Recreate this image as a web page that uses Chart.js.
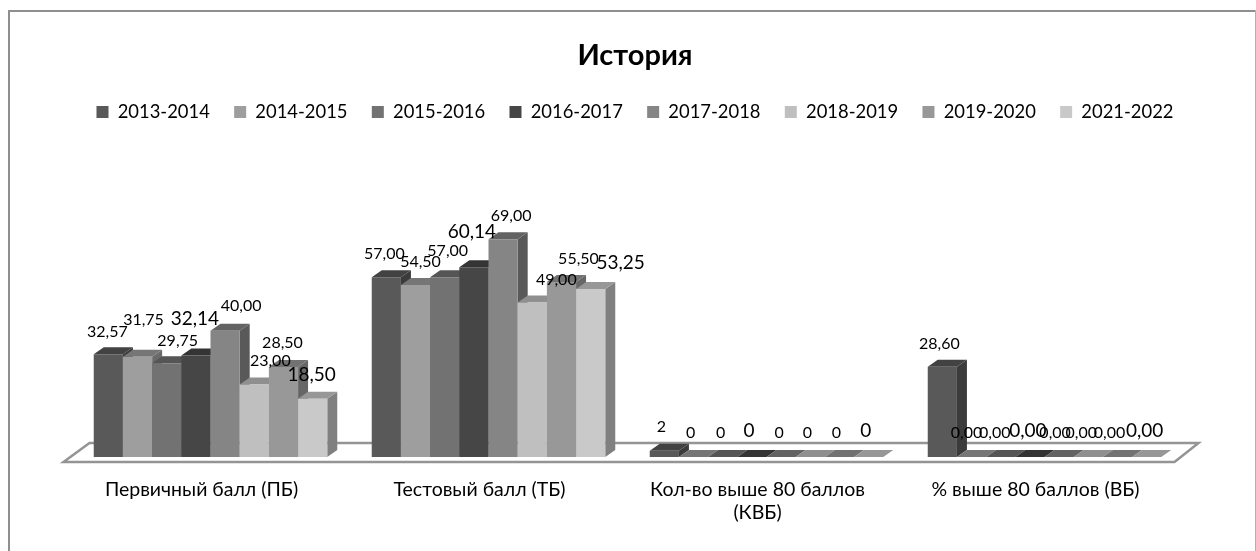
<!DOCTYPE html>
<html>
<head>
<meta charset="utf-8">
<title>История</title>
<script src="https://cdn.jsdelivr.net/npm/chart.js@4"></script>
<style>
  html, body { margin: 0; padding: 0; background: #fff; overflow: hidden; }
  #wrap { width: 1256px; height: 551px; }
</style>
</head>
<body>
<div id="wrap"><canvas id="historyChart" width="1256" height="551"></canvas></div>
<script>
const categories = ['Первичный балл (ПБ)', 'Тестовый балл (ТБ)', ['Кол-во выше 80 баллов', '(КВБ)'], '% выше 80 баллов (ВБ)'];
const seriesNames = ['2013-2014', '2014-2015', '2015-2016', '2016-2017', '2017-2018', '2018-2019', '2019-2020', '2021-2022'];

const values2013 = [32.57, 57.00, 2, 28.60];
const values2014 = [31.75, 54.50, 0, 0];
const values2015 = [29.75, 57.00, 0, 0];
const values2016 = [32.14, 60.14, 0, 0];
const values2017 = [40.00, 69.00, 0, 0];
const values2018 = [23.00, 49.00, 0, 0];
const values2019 = [28.50, 55.50, 0, 0];
const values2021 = [18.50, 53.25, 0, 0];
const allValues = [values2013, values2014, values2015, values2016, values2017, values2018, values2019, values2021];

// the third category holds whole numbers, the others two decimals with a comma
const valueTexts = allValues.map(list => list.map((v, i) => i === 2 ? String(v) : v.toFixed(2).replace('.', ',')));

const frontColors = ['#595959', '#9e9e9e', '#727272', '#464646', '#858585', '#bfbfbf', '#989898', '#c9c9c9'];
const topColors = ['#424242', '#767676', '#555555', '#343434', '#636363', '#8f8f8f', '#727272', '#979797'];
const sideColors = ['#3b3b3b', '#6a6a6a', '#4d4d4d', '#2f2f2f', '#595959', '#808080', '#666666', '#808080'];

// hand placed value labels, as in the workbook: [dx, dy] from the top middle of each bar
const labelNudges = [
    [[-1, -22], [-2, -23], [-3, -24], [-3, -23]],
    [[6, -37], [5, -23], [-3, -24], [-5, -24]],
    [[11, -22], [3, -26], [-2, -24], [-6, -24]],
    [[-1, -37], [-2, -35], [-3, -26], [-2, -26]],
    [[16, -25], [8, -23], [-2, -24], [-4, -24]],
    [[16, -24], [24, -23], [-3, -24], [-7, -24]],
    [[-1, -24], [17, -23], [-3, -24], [-8, -24]],
    [[-1, -24], [30, -26], [-3, -26], [-2, -26]]
];

const FONT = 'Lato, "Open Sans", sans-serif';
const DEPTH_X = 10;
const DEPTH_Y = 7;

function poly(ctx, color, pts) {
    ctx.fillStyle = color;
    ctx.beginPath();
    pts.forEach((p, i) => i ? ctx.lineTo(p[0], p[1]) : ctx.moveTo(p[0], p[1]));
    ctx.closePath();
    ctx.fill();
}

const frame3d = {
    id: 'frame3d',
    beforeDraw(chart) {
        const ctx = chart.ctx;
        ctx.save();
        ctx.fillStyle = '#8f8f8f';
        ctx.fillRect(8, 10, 2, 541);
        ctx.fillRect(8, 10, 1248, 2);
        ctx.fillStyle = '#b0b0b0';
        ctx.fillRect(1255, 10, 1, 541);
        ctx.restore();
    },
    beforeDatasetsDraw(chart) {
        // floor of the 3D chart
        const ctx = chart.ctx;
        const a = chart.chartArea;
        ctx.save();
        ctx.strokeStyle = '#949494';
        ctx.lineWidth = 2.5;
        ctx.beginPath();
        ctx.moveTo(a.left - 8, a.bottom + 5);
        ctx.lineTo(a.left + 18, a.bottom - 14);
        ctx.lineTo(a.right + 15, a.bottom - 14);
        ctx.lineTo(a.right - 9, a.bottom + 5);
        ctx.closePath();
        ctx.stroke();
        ctx.restore();
    },
    beforeDatasetDraw() {
        return false; // bars are painted left to right below
    },
    afterDatasetsDraw(chart) {
        const ctx = chart.ctx;
        ctx.save();
        categories.forEach((c, col) => {
            seriesNames.forEach((s, i) => {
                const bar = chart.getDatasetMeta(i).data[col];
                const left = bar.x - bar.width / 2;
                const right = bar.x + bar.width / 2;
                poly(ctx, sideColors[i], [[right, bar.y], [right + DEPTH_X, bar.y - DEPTH_Y], [right + DEPTH_X, bar.base - DEPTH_Y], [right, bar.base]]);
                poly(ctx, topColors[i], [[left, bar.y], [left + DEPTH_X, bar.y - DEPTH_Y], [right + DEPTH_X, bar.y - DEPTH_Y], [right, bar.y]]);
                bar.draw(ctx, chart.chartArea);
            });
        });
        // value labels
        ctx.textAlign = 'center';
        ctx.textBaseline = 'middle';
        ctx.fillStyle = '#000';
        seriesNames.forEach((s, i) => {
            ctx.font = (i === 3 || i === 7 ? '19px ' : '16px ') + FONT;
            chart.getDatasetMeta(i).data.forEach((bar, col) => {
                const n = labelNudges[i][col];
                ctx.fillText(valueTexts[i][col], bar.x + n[0], bar.y + n[1]);
            });
        });
        ctx.restore();
    }
};

new Chart(document.getElementById('historyChart'), {
    type: 'bar',
    data: {
        labels: categories,
        datasets: seriesNames.map((name, i) => ({
            label: name,
            data: allValues[i],
            backgroundColor: frontColors[i],
            borderWidth: 0
        }))
    },
    options: {
        responsive: false,
        animation: false,
        layout: { padding: { left: 71.5, right: 57.5, top: 0, bottom: 0 } },
        datasets: { bar: { barPercentage: 1, categoryPercentage: 0.84 } },
        scales: {
            x: {
                grid: { display: false },
                border: { display: false },
                ticks: {
                    color: '#000',
                    font: { family: FONT, size: 19.5 },
                    maxRotation: 0,
                    autoSkip: false,
                    labelOffset: -9,
                    padding: 13
                },
                afterFit(scale) { scale.height = 94; }
            },
            y: {
                display: false,
                min: 0,
                max: 103.3
            },
            yRight: {
                position: 'right',
                grid: { display: false },
                border: { display: false },
                ticks: { display: false },
                afterFit(scale) { scale.width = 15; }
            }
        },
        plugins: {
            title: {
                display: true,
                text: 'История',
                color: '#000',
                font: { family: FONT, size: 29, weight: 'bold' },
                padding: { top: 38, bottom: 5.6 }
            },
            legend: {
                position: 'top',
                labels: {
                    boxWidth: 12,
                    boxHeight: 12,
                    padding: 24.3,
                    color: '#000',
                    font: { family: FONT, size: 18.4 }
                }
            },
            tooltip: { enabled: false }
        }
    },
    plugins: [frame3d]
});
</script>
</body>
</html>
